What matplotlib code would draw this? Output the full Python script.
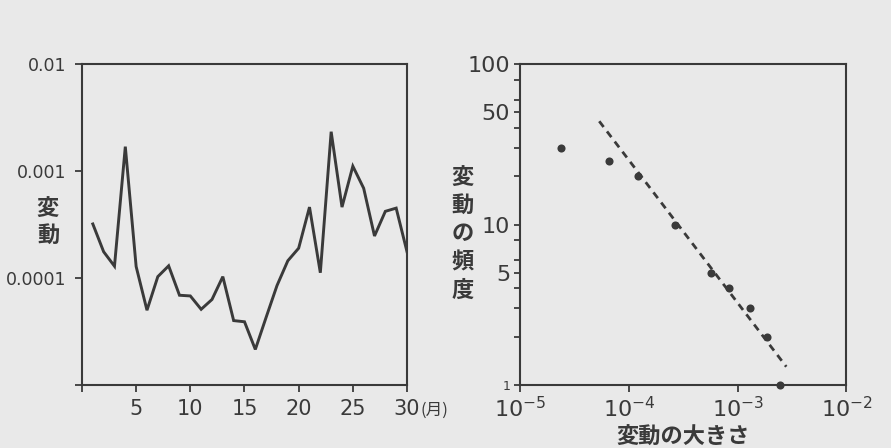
import matplotlib
matplotlib.use("Agg")
import matplotlib.pyplot as plt
from matplotlib.ticker import NullLocator

plt.rcParams["font.family"] = ["Noto Sans CJK JP", "DejaVu Sans"]
plt.rcParams["mathtext.fontset"] = "dejavusans"

ink = "#3a3a3a"
paper = "#e9e9e9"
num_font = ["DejaVu Sans"]

# 左: 月ごとの変動
months = list(range(1, 31))
variation = [3.2e-4, 1.76e-4, 1.29e-4, 1.69e-3, 1.28e-4, 5.0e-5, 1.03e-4, 1.30e-4,
             6.9e-5, 6.8e-5, 5.1e-5, 6.3e-5, 1.03e-4, 4.0e-5, 3.9e-5, 2.15e-5,
             4.3e-5, 8.5e-5, 1.45e-4, 1.9e-4, 4.6e-4, 1.12e-4, 2.33e-3, 4.6e-4,
             1.11e-3, 6.9e-4, 2.47e-4, 4.2e-4, 4.5e-4, 1.76e-4]
month_ticks = [0, 5, 10, 15, 20, 25, 30]
month_labels = ["", "5", "10", "15", "20", "25", "30"]
var_ticks = [1e-5, 1e-4, 1e-3, 1e-2]
var_labels = ["", "0.0001", "0.001", "0.01"]

# 右: 変動の大きさと頻度
size = [2.4e-5, 6.6e-5, 1.22e-4, 2.65e-4, 5.75e-4, 8.35e-4, 1.29e-3, 1.87e-3, 2.44e-3]
freq = [30, 25, 20, 10, 5, 4, 3, 2, 1]
fit_x = [5.35e-5, 2.8e-3]
fit_y = [44, 1.3]
size_ticks = [1e-5, 1e-4, 1e-3, 1e-2]
size_labels = [r"$10^{-5}$", r"$10^{-4}$", r"$10^{-3}$", r"$10^{-2}$"]
freq_ticks = [1, 5, 10, 50, 100]
freq_minor = [2, 3, 4, 6, 8, 20, 30, 40, 60, 80]

fig = plt.figure(figsize=(8.91, 4.48), dpi=100, facecolor=paper)
ax1 = fig.add_axes([0.092, 0.1406, 0.3648, 0.7165])
ax2 = fig.add_axes([0.5836, 0.1406, 0.3664, 0.7165])

for ax in (ax1, ax2):
    ax.set_facecolor(paper)
    for s in ax.spines.values():
        s.set_color(ink)
        s.set_linewidth(1.5)
    ax.tick_params(which="both", direction="out", color=ink, labelcolor=ink, width=1.3)

# 左のグラフ
ax1.plot(months, variation, color=ink, lw=2.1, solid_joinstyle="miter")
ax1.set_yscale("log")
ax1.set_xlim(0, 30)
ax1.set_ylim(1e-5, 1e-2)
ax1.set_xticks(month_ticks, month_labels, fontsize=15, family=num_font)
ax1.set_yticks(var_ticks, var_labels, fontsize=12.5, family=num_font)
ax1.yaxis.set_minor_locator(NullLocator())
ax1.tick_params(axis="x", length=5, pad=5)
ax1.tick_params(axis="y", length=5, pad=6)
fig.text(420 / 891, 1 - 410 / 448, "(月)", fontsize=12, color=ink, ha="left", va="center")
fig.text(48 / 891, 1 - 222 / 448, "変\n動", fontsize=16, fontweight="bold", color=ink,
         ha="center", va="center", linespacing=1.25)

# 右のグラフ
ax2.set_xscale("log")
ax2.set_yscale("log")
ax2.plot(fit_x, fit_y, color=ink, lw=2, linestyle=(0, (2.6, 2.0)))
ax2.scatter(size, freq, s=34, color=ink, zorder=3, clip_on=False, linewidths=0)
ax2.set_xlim(1e-5, 1e-2)
ax2.set_ylim(1, 100)
ax2.set_xticks(size_ticks, size_labels, fontsize=16, family=num_font)
ax2.xaxis.set_minor_locator(NullLocator())
ax2.set_yticks(freq_ticks, [str(v) for v in freq_ticks], fontsize=16, family=num_font)
ax2.set_yticks(freq_minor, minor=True)
ax2.yaxis.set_minor_formatter(plt.NullFormatter())
for lab in ax2.get_yticklabels():
    if lab.get_text() == "1":
        lab.set_fontsize(9)
ax2.tick_params(axis="x", length=5, pad=3)
ax2.tick_params(axis="y", which="both", length=4, pad=3)
fig.text(463 / 891, 1 - 234 / 448, "変\n動\nの\n頻\n度", fontsize=16, fontweight="bold",
         color=ink, ha="center", va="center", linespacing=1.3)
fig.text(683 / 891, 1 - 437 / 448, "変動の大きさ", fontsize=16, fontweight="bold",
         color=ink, ha="center", va="center")

fig.savefig("out.png", dpi=100, facecolor=paper)
